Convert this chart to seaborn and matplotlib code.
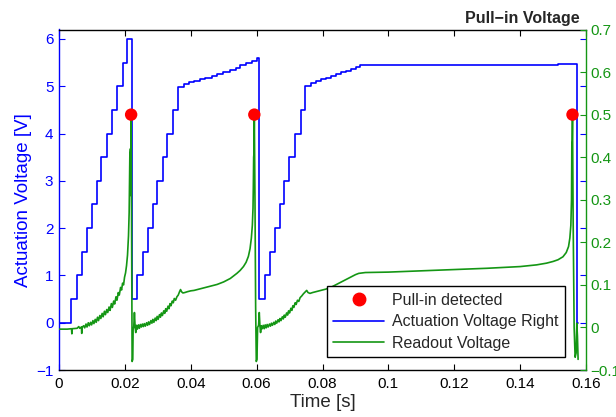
import numpy as np
import seaborn as sns
import matplotlib.pyplot as plt
from matplotlib.lines import Line2D

# Actuation voltage staircase (left axis) - step times [s] and levels [V]
act_t = [0.0000, 0.0037, 0.0056, 0.0071, 0.0086, 0.0101, 0.0115, 0.0128, 0.0145, 0.0162,
         0.0177, 0.0194, 0.0207, 0.0222,
         0.0238, 0.0255, 0.0269, 0.0285, 0.0298, 0.0315, 0.0328, 0.0346,
         0.0361, 0.0379, 0.0394, 0.0409, 0.0427, 0.0444, 0.0463, 0.0480, 0.0498, 0.0519,
         0.0536, 0.0551, 0.0569, 0.0587, 0.0602, 0.0607,
         0.0625, 0.0640, 0.0655, 0.0671, 0.0684, 0.0699, 0.0715, 0.0734, 0.0747,
         0.0764, 0.0779, 0.0795, 0.0810, 0.0825, 0.0840, 0.0855, 0.0871, 0.0886, 0.0901,
         0.0914, 0.1139, 0.1515, 0.1574, 0.1577]
act_v = [0.0, 0.5, 1.0, 1.5, 2.0, 2.5, 3.0, 3.5, 4.0, 4.5,
         5.0, 5.5, 6.0, 0.5,
         1.0, 1.5, 2.0, 2.5, 3.0, 3.5, 4.0, 4.5,
         4.99, 5.05, 5.08, 5.12, 5.15, 5.18, 5.22, 5.26, 5.30, 5.35,
         5.39, 5.44, 5.49, 5.54, 5.59, 0.5,
         1.0, 1.5, 2.0, 2.5, 3.0, 3.5, 4.0, 4.5, 5.0,
         5.06, 5.11, 5.15, 5.18, 5.22, 5.26, 5.30, 5.33, 5.37, 5.40,
         5.44, 5.45, 5.46, 0.0, 0.0]

# Readout voltage (right axis)
read_t = [0.0000, 0.0025, 0.0038, 0.0039, 0.0040, 0.0055, 0.0060, 0.0063, 0.0068, 0.0069,
          0.0070, 0.0075, 0.0078, 0.0082, 0.0085, 0.0089, 0.0092, 0.0096, 0.0099, 0.0103,
          0.0106, 0.0110, 0.0113, 0.0117, 0.0120, 0.0124, 0.0127, 0.0131, 0.0134, 0.0138,
          0.0141, 0.0145, 0.0148, 0.0152, 0.0155, 0.0159, 0.0162, 0.0166, 0.0169, 0.0173,
          0.0176, 0.0180, 0.0183, 0.0187, 0.0190, 0.0193, 0.0196, 0.0199, 0.0202, 0.0205,
          0.0208, 0.0211, 0.0213, 0.0215, 0.0217, 0.0218, 0.0219, 0.0221, 0.0222, 0.0224,
          0.0225, 0.0227, 0.0229, 0.0231, 0.0233, 0.0235,
          0.0238, 0.0241, 0.0244, 0.0247, 0.0250, 0.0253, 0.0256, 0.0259, 0.0262, 0.0266,
          0.0269, 0.0272, 0.0275, 0.0279, 0.0282, 0.0285, 0.0288, 0.0292, 0.0295, 0.0298,
          0.0301, 0.0305, 0.0308, 0.0311, 0.0314, 0.0318, 0.0321, 0.0324, 0.0327, 0.0331,
          0.0334, 0.0337, 0.0340, 0.0344, 0.0347, 0.0350, 0.0354, 0.0358, 0.0362, 0.0366,
          0.0369, 0.0372, 0.0376, 0.0382, 0.0390, 0.0400, 0.0410, 0.0420, 0.0430, 0.0440,
          0.0450, 0.0460, 0.0470, 0.0480, 0.0490, 0.0500, 0.0510, 0.0520, 0.0530, 0.0540,
          0.0550, 0.0560, 0.0568, 0.0575, 0.0580, 0.0584, 0.0587, 0.0589, 0.0590, 0.0591,
          0.0592, 0.0593, 0.0595, 0.0597, 0.0599, 0.0601, 0.0603, 0.0606, 0.0608, 0.0610,
          0.0612, 0.0614,
          0.0617, 0.0620, 0.0623, 0.0626, 0.0629, 0.0632, 0.0635, 0.0639, 0.0642, 0.0645,
          0.0648, 0.0652, 0.0655, 0.0658, 0.0661, 0.0665, 0.0668, 0.0671, 0.0674, 0.0678,
          0.0681, 0.0684, 0.0687, 0.0691, 0.0694, 0.0697, 0.0700, 0.0704, 0.0707, 0.0710,
          0.0713, 0.0717, 0.0720, 0.0724, 0.0728, 0.0732, 0.0737, 0.0742, 0.0747, 0.0752,
          0.0756, 0.0762, 0.0770, 0.0780, 0.0790, 0.0800, 0.0810, 0.0820, 0.0830, 0.0840,
          0.0850, 0.0860, 0.0870, 0.0880, 0.0890, 0.0900, 0.0910, 0.0920, 0.0930, 0.1000,
          0.1100, 0.1200, 0.1300, 0.1400, 0.1450, 0.1480, 0.1500, 0.1515, 0.1530, 0.1540,
          0.1547, 0.1551, 0.1554, 0.1556, 0.1557, 0.1558, 0.1559, 0.1561, 0.1564, 0.1567,
          0.1570, 0.1572, 0.1574, 0.1576]
read_v = [-0.004, -0.004, -0.003, -0.015, -0.003, -0.002, 0.002, -0.002, 0.001, -0.014,
          0.000, 0.004, -0.001, 0.008, 0.001, 0.011, 0.004, 0.012, 0.006, 0.016,
          0.009, 0.019, 0.012, 0.024, 0.016, 0.028, 0.021, 0.033, 0.025, 0.038,
          0.030, 0.042, 0.035, 0.048, 0.040, 0.056, 0.047, 0.062, 0.055, 0.072,
          0.064, 0.082, 0.076, 0.094, 0.088, 0.104, 0.100, 0.118, 0.128, 0.145,
          0.170, 0.215, 0.270, 0.400, 0.420, 0.310, 0.500, 0.150, -0.080, -0.075,
          -0.005, 0.002, 0.035, 0.003, -0.012, 0.005,
          -0.004, 0.006, -0.002, 0.007, 0.001, 0.008, 0.002, 0.009, 0.003, 0.011,
          0.005, 0.013, 0.007, 0.016, 0.010, 0.019, 0.012, 0.022, 0.016, 0.026,
          0.019, 0.030, 0.024, 0.034, 0.028, 0.039, 0.033, 0.044, 0.038, 0.050,
          0.044, 0.056, 0.051, 0.062, 0.058, 0.068, 0.064, 0.072, 0.076, 0.084,
          0.089, 0.084, 0.081, 0.082, 0.084, 0.086, 0.087, 0.089, 0.091, 0.093,
          0.095, 0.097, 0.099, 0.101, 0.104, 0.107, 0.111, 0.115, 0.121, 0.127,
          0.134, 0.143, 0.153, 0.167, 0.185, 0.210, 0.240, 0.280, 0.330, 0.400,
          0.410, 0.500, 0.300, 0.050, -0.080, -0.075, 0.000, 0.005, 0.035, 0.004,
          -0.012, 0.004,
          -0.003, 0.005, -0.003, 0.006, -0.001, 0.007, 0.001, 0.008, 0.003, 0.010,
          0.005, 0.012, 0.007, 0.015, 0.010, 0.018, 0.013, 0.021, 0.016, 0.025,
          0.020, 0.029, 0.024, 0.034, 0.029, 0.039, 0.034, 0.045, 0.040, 0.051,
          0.047, 0.058, 0.054, 0.064, 0.061, 0.070, 0.074, 0.079, 0.083, 0.087,
          0.082, 0.080, 0.082, 0.084, 0.086, 0.088, 0.090, 0.093, 0.096, 0.100,
          0.104, 0.108, 0.112, 0.116, 0.120, 0.124, 0.127, 0.128, 0.129, 0.130,
          0.133, 0.136, 0.139, 0.143, 0.147, 0.151, 0.155, 0.159, 0.166, 0.176,
          0.190, 0.210, 0.240, 0.300, 0.430, 0.440, 0.500, 0.250, 0.000, -0.070,
          -0.060, 0.010, -0.020, -0.075]

# detected pull-in events (right axis)
pullin_t = [0.0219, 0.0593, 0.1559]
pullin_v = [0.5, 0.5, 0.5]

x_ticks = [0, 0.02, 0.04, 0.06, 0.08, 0.10, 0.12, 0.14, 0.16]
x_labels = ['0', '0.02', '0.04', '0.06', '0.08', '0.1', '0.12', '0.14', '0.16']
left_ticks = [-1, 0, 1, 2, 3, 4, 5, 6]
right_ticks = [-0.1, 0, 0.1, 0.2, 0.3, 0.4, 0.5, 0.6, 0.7]
right_labels = ['\u22120.1', '0', '0.1', '0.2', '0.3', '0.4', '0.5', '0.6', '0.7']

BLUE = '#0000ff'
GREEN = '#149614'

sns.set_style('white')
plt.rcParams['font.family'] = ['Liberation Sans', 'DejaVu Sans']

fig = plt.figure(figsize=(6.16, 4.17), dpi=100)
ax1 = fig.add_axes([59 / 616, 47 / 417, 527 / 616, 340.5 / 417])
ax2 = ax1.twinx()

sns.lineplot(x=act_t, y=act_v, ax=ax1, color=BLUE, lw=1.2, drawstyle='steps-post',
             estimator=None, sort=False, legend=False)
sns.lineplot(x=read_t, y=read_v, ax=ax2, color=GREEN, lw=1.2,
             estimator=None, sort=False, legend=False)
sns.scatterplot(x=pullin_t, y=pullin_v, ax=ax2, color='red', s=80,
                edgecolor='none', zorder=5, legend=False)

ax1.set_xlim(0, 0.16)
ax1.set_ylim(-1, 6.2)
ax2.set_ylim(-0.1, 0.7)

ax1.set_xticks(x_ticks)
ax1.set_xticklabels(x_labels)
ax1.set_yticks(left_ticks)
ax2.set_yticks(right_ticks)
ax2.set_yticklabels(right_labels)

ax1.tick_params(axis='x', direction='in', top=True, bottom=True, length=4,
                colors='black', labelsize=11, pad=5)
ax1.tick_params(axis='y', direction='in', left=True, right=True, length=4,
                colors=BLUE, labelsize=11, pad=4)
ax2.tick_params(axis='y', direction='in', right=True, length=4,
                colors=GREEN, labelsize=11, pad=3)

for sp in ax1.spines.values():
    sp.set_color('black')
    sp.set_linewidth(1.0)
ax1.spines['left'].set_color(BLUE)
ax1.spines['right'].set_visible(False)
ax2.spines['left'].set_visible(False)
ax2.spines['top'].set_visible(False)
ax2.spines['bottom'].set_visible(False)
ax2.spines['right'].set_color(GREEN)
ax2.spines['right'].set_linewidth(1.0)

ax1.set_xlabel('Time [s]', fontsize=13.5, labelpad=2)
ax1.set_ylabel('Actuation Voltage [V]', fontsize=13.5, color=BLUE, labelpad=3)
ax2.set_ylabel('')

fig.text(580 / 616, 1 - 18 / 417, 'Pull\u2212in Voltage', ha='right', va='center',
         fontsize=11.5, fontweight='bold')

handles = [Line2D([], [], ls='none', marker='o', color='red', markersize=9),
           Line2D([], [], color=BLUE, lw=1.2),
           Line2D([], [], color=GREEN, lw=1.2)]
labels = ['Pull-in detected', 'Actuation Voltage Right', 'Readout Voltage']
leg = ax2.legend(handles, labels, loc='lower right', bbox_to_anchor=(565 / 616, 60 / 417),
                 bbox_transform=fig.transFigure, borderaxespad=0, fancybox=False,
                 edgecolor='black', framealpha=1, fontsize=11.5, handlelength=3.2,
                 handletextpad=0.5, labelspacing=0.4, borderpad=0.4)
leg.get_frame().set_linewidth(1.0)

fig.savefig('out.png', dpi=100)
